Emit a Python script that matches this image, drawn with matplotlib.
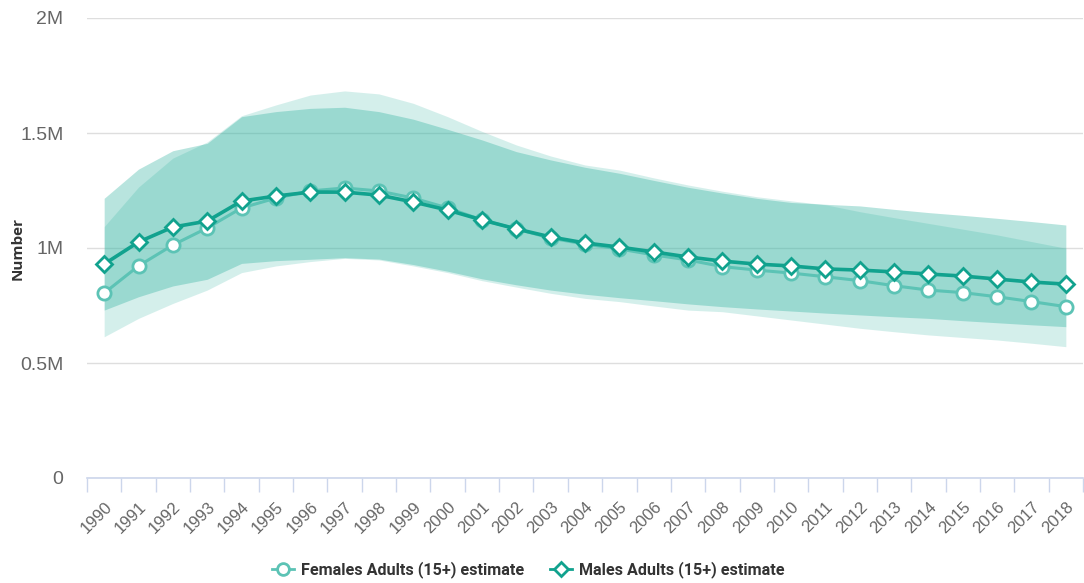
import matplotlib
matplotlib.use("Agg")
import matplotlib.pyplot as plt
from matplotlib.lines import Line2D
import numpy as np

years = list(range(1990, 2019))

females_est = [0.804, 0.922, 1.013, 1.087, 1.174, 1.217, 1.248, 1.261, 1.248, 1.217,
               1.174, 1.122, 1.083, 1.043, 1.017, 0.996, 0.970, 0.948, 0.919, 0.904,
               0.891, 0.875, 0.858, 0.836, 0.817, 0.806, 0.788, 0.767, 0.745]
males_est = [0.930, 1.026, 1.091, 1.117, 1.204, 1.226, 1.243, 1.243, 1.230, 1.200,
             1.165, 1.122, 1.083, 1.048, 1.022, 1.004, 0.983, 0.961, 0.943, 0.930,
             0.922, 0.909, 0.904, 0.896, 0.887, 0.878, 0.865, 0.852, 0.843]

females_hi = [1.093, 1.265, 1.391, 1.461, 1.575, 1.622, 1.665, 1.683, 1.670, 1.629,
              1.571, 1.507, 1.448, 1.400, 1.361, 1.339, 1.305, 1.274, 1.247, 1.223,
              1.205, 1.188, 1.158, 1.132, 1.107, 1.082, 1.057, 1.028, 0.999]
females_lo = [0.614, 0.694, 0.759, 0.817, 0.893, 0.922, 0.941, 0.955, 0.948, 0.922,
              0.893, 0.858, 0.830, 0.803, 0.781, 0.767, 0.748, 0.730, 0.723, 0.705,
              0.687, 0.669, 0.651, 0.636, 0.622, 0.611, 0.600, 0.586, 0.571]
males_hi = [1.216, 1.343, 1.423, 1.455, 1.571, 1.593, 1.607, 1.612, 1.593, 1.560,
            1.516, 1.470, 1.419, 1.383, 1.351, 1.325, 1.294, 1.264, 1.239, 1.216,
            1.198, 1.190, 1.183, 1.168, 1.154, 1.142, 1.129, 1.115, 1.100]
males_lo = [0.730, 0.788, 0.835, 0.864, 0.933, 0.945, 0.951, 0.958, 0.952, 0.928,
            0.899, 0.866, 0.840, 0.817, 0.799, 0.784, 0.771, 0.757, 0.745, 0.735,
            0.726, 0.717, 0.709, 0.701, 0.694, 0.684, 0.675, 0.666, 0.658]

ytick_vals = [0, 0.5, 1.0, 1.5, 2.0]
ytick_labels = ["0", "0.5M", "1M", "1.5M", "2M"]

F_COLOR = "#5cc3b5"
M_COLOR = "#11a28e"

fig = plt.figure(figsize=(10.84, 5.83), dpi=100)
ax = fig.add_axes([87/1084, 105/583, (1083-87)/1084, 460/583])

x = np.arange(len(years))
scale = 1e6
fe = np.array(females_est) * scale
me = np.array(males_est) * scale

ax.fill_between(x, np.array(females_lo) * scale, np.array(females_hi) * scale,
                color=F_COLOR, alpha=0.26, linewidth=0, zorder=2)
ax.fill_between(x, np.array(males_lo) * scale, np.array(males_hi) * scale,
                color="#1aaa96", alpha=0.31, linewidth=0, zorder=2)

ax.plot(x, fe, color=F_COLOR, lw=2.2, marker="o", ms=9.5, mfc="white",
        mec=F_COLOR, mew=2, zorder=4)
ax.plot(x, me, color=M_COLOR, lw=2.6, marker="D", ms=8, mfc="white",
        mec=M_COLOR, mew=2, zorder=5)

ax.set_xlim(-0.5, len(years) - 0.5)
ax.set_ylim(0, 2e6)

ax.set_yticks([v * scale for v in ytick_vals])
ax.set_yticklabels(ytick_labels, fontsize=14, color="#666666", family="Liberation Sans")
ax.yaxis.grid(True, color="#dedede", lw=1, zorder=0)
ax.set_axisbelow(True)
ax.tick_params(axis="y", length=0, pad=17)

ax.set_xticks(x)
ax.set_xticklabels([str(y) for y in years], rotation=45, ha="right",
                   rotation_mode="anchor", fontsize=12, color="#666666",
                   family="Liberation Sans")
ax.set_xticks(np.arange(-0.5, len(years)), minor=True)
ax.tick_params(axis="x", which="major", length=0, pad=15)
ax.tick_params(axis="x", which="minor", length=10, color="#ccd6eb", width=1)

for s in ["top", "right", "left"]:
    ax.spines[s].set_visible(False)
ax.spines["bottom"].set_color("#ccd6eb")
ax.spines["bottom"].set_linewidth(1.2)

fig.text(18/1084, 1 - 248/583, "Number", rotation=90, ha="center", va="center",
         fontsize=11, fontweight="bold", color="#333333", family="Open Sans")

handles = [
    Line2D([0], [0], color=F_COLOR, lw=2, marker="o", ms=8.5, mfc="white", mec=F_COLOR, mew=2),
    Line2D([0], [0], color=M_COLOR, lw=2, marker="D", ms=7.5, mfc="white", mec=M_COLOR, mew=2),
]
leg = fig.legend(handles, ["Females Adults (15+) estimate", "Males Adults (15+) estimate"],
                 loc="center", bbox_to_anchor=(528/1084, 1 - 570/583), ncol=2,
                 frameon=False, handlelength=1.4, handletextpad=0.4, columnspacing=1.6,
                 prop={"family": "Roboto", "weight": "bold", "size": 11.6})
for t in leg.get_texts():
    t.set_color("#333333")

fig.savefig("out.png", dpi=100)
